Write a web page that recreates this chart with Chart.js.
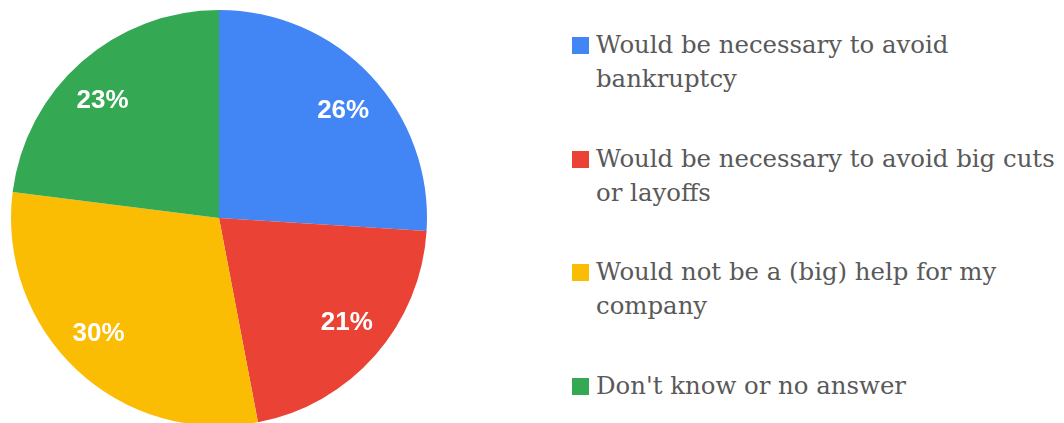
<!DOCTYPE html>
<html>
<head>
<meta charset="utf-8">
<script src="https://cdn.jsdelivr.net/npm/chart.js@4"></script>
<style>
	html, body {
		margin: 0;
		padding: 0;
		background: #fff;
		overflow: hidden;
		width: 1064px;
		height: 423px;
	}
	.pie-box {
		position: absolute;
		left: 0;
		top: 0;
		width: 438px;
		height: 436px;
	}
	.legend {
		position: absolute;
		left: 572px;
		top: 28px;
		margin: 0;
		padding: 0;
		list-style: none;
		font-family: "DejaVu Serif", serif;
		font-size: 24.4px;
		line-height: 34px;
		color: #595959;
		white-space: nowrap;
	}
	.legend li {
		position: relative;
		padding-left: 24px;
		height: 113.6px;
	}
	.legend .swatch {
		position: absolute;
		left: 0;
		top: 9px;
		width: 17px;
		height: 17px;
	}
</style>
</head>
<body>
<div class="pie-box"><canvas class="chart"></canvas></div>
<ul class="legend" id="legend"></ul>
<script>
const labels = [
	"Would be necessary to avoid bankruptcy",
	"Would be necessary to avoid big cuts or layoffs",
	"Would not be a (big) help for my company",
	"Don't know or no answer",
];
// line breaks used in the legend on the right
const legendLines = [
	["Would be necessary to avoid", "bankruptcy"],
	["Would be necessary to avoid big cuts", "or layoffs"],
	["Would not be a (big) help for my", "company"],
	["Don't know or no answer"],
];
const shares = [26, 21, 30, 23];
const colors = ["#4285f4", "#ea4335", "#fbbc04", "#34a853"];

// white percentage inside each slice, placed on a slightly flattened ring
const sliceLabels = {
	id: "sliceLabels",
	afterDatasetsDraw(chart) {
		const ctx = chart.ctx;
		const meta = chart.getDatasetMeta(0);
		ctx.save();
		ctx.fillStyle = "#fff";
		ctx.font = "bold 26px 'Liberation Sans', Arial, sans-serif";
		ctx.textAlign = "center";
		ctx.textBaseline = "middle";
		meta.data.forEach((arc, i) => {
			const { x, y, startAngle, endAngle, outerRadius } = arc.getProps(
				["x", "y", "startAngle", "endAngle", "outerRadius"],
				true
			);
			const mid = (startAngle + endAngle) / 2;
			const lx = x - 2 + Math.cos(mid) * outerRadius * 0.832;
			const ly = y + 1 + Math.sin(mid) * outerRadius * 0.758;
			ctx.fillText(shares[i] + "%", lx, ly);
		});
		ctx.restore();
	},
};

const chartCanvas = document.querySelector(".chart");

const myChart = new Chart(chartCanvas, {
	type: "pie",
	data: {
		labels: labels,
		datasets: [
			{
				data: shares,
				backgroundColor: colors,
				borderWidth: 0,
			},
		],
	},
	options: {
		responsive: true,
		maintainAspectRatio: false,
		animation: false,
		layout: { padding: 10 },
		plugins: {
			legend: { display: false },
			tooltip: { enabled: false },
		},
	},
	plugins: [sliceLabels],
});

// legend built from the chart's own labels and colours
const legendEl = document.getElementById("legend");
myChart.data.labels.forEach((label, i) => {
	const li = document.createElement("li");
	const box = document.createElement("span");
	box.className = "swatch";
	box.style.background = myChart.data.datasets[0].backgroundColor[i];
	li.appendChild(box);
	li.appendChild(document.createTextNode(legendLines[i][0]));
	for (let k = 1; k < legendLines[i].length; k++) {
		li.appendChild(document.createElement("br"));
		li.appendChild(document.createTextNode(legendLines[i][k]));
	}
	li.title = label;
	legendEl.appendChild(li);
});
</script>
</body>
</html>
